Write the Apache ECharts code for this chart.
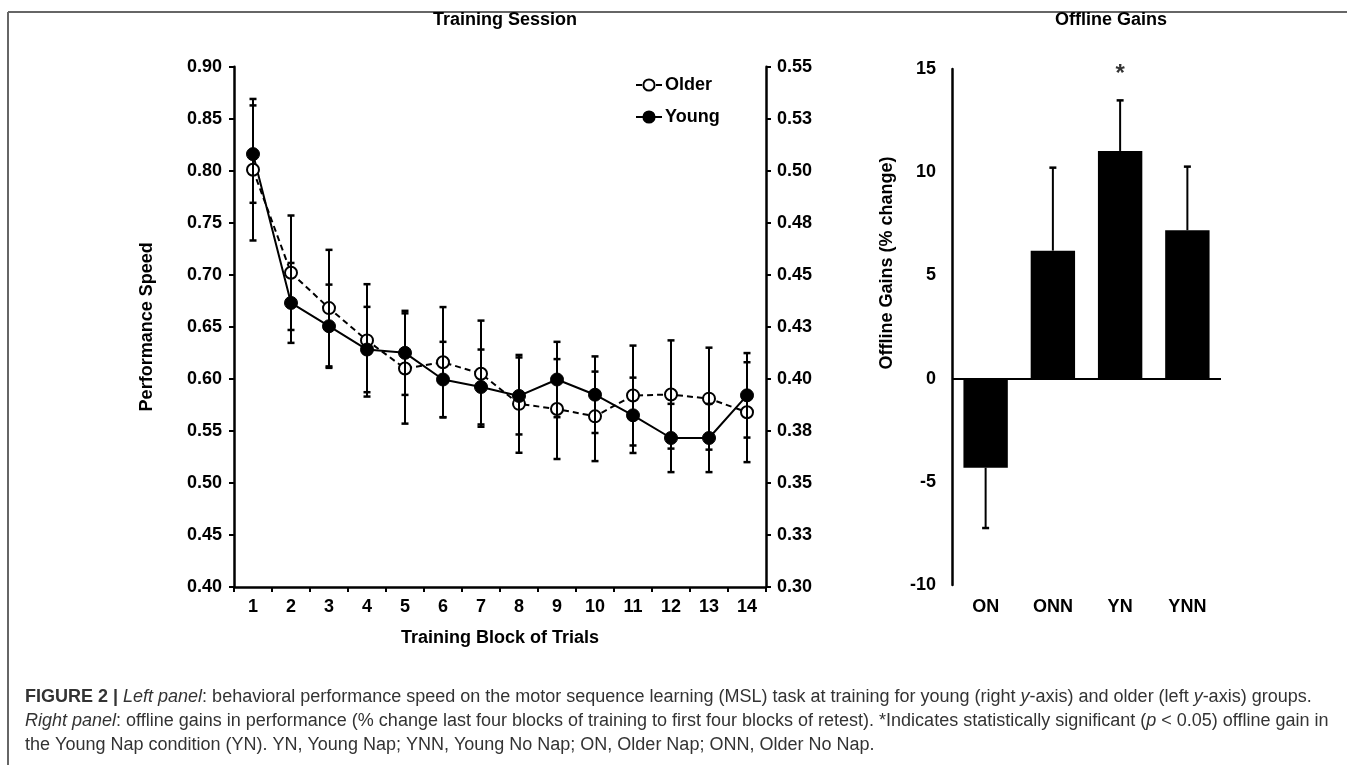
<!DOCTYPE html>
<html>
<head>
<meta charset="utf-8">
<script src="https://cdn.jsdelivr.net/npm/echarts@6/dist/echarts.min.js"></script>
<style>
html,body{margin:0;padding:0;background:#fff;}
#chart{width:1355px;height:765px;}
</style>
</head>
<body>
<div id="chart"></div>
<script>
// ---- data ----
const blocks = ['1','2','3','4','5','6','7','8','9','10','11','12','13','14'];
const olderSpeed = [0.801,0.702,0.668,0.637,0.610,0.616,0.605,0.576,0.571,0.564,0.584,0.585,0.581,0.568];
const olderErr   = [0.068,0.055,0.056,0.054,0.053,0.053,0.051,0.047,0.048,0.043,0.048,0.052,0.049,0.048];
const youngSpeed = [0.508,0.4365,0.4253,0.4141,0.4125,0.3997,0.3961,0.3918,0.3997,0.3924,0.3825,0.3716,0.3716,0.3921];
const youngErr   = [0.0234,0.0192,0.0200,0.0205,0.0202,0.0181,0.0180,0.0185,0.0181,0.0184,0.0181,0.0164,0.0164,0.0203];
const rightTickLabels = ['0.30','0.33','0.35','0.38','0.40','0.43','0.45','0.48','0.50','0.53','0.55'];
const groups   = ['ON','ONN','YN','YNN'];
const gains    = [-4.32, 6.20, 11.03, 7.19];
const gainErr  = [2.92, 4.02, 2.45, 3.08];
const sigMarks = [null, null, 14.75, null];

const FONT = 'Liberation Sans, Arial, sans-serif';
const boldTxt = {fontFamily: FONT, fontWeight: 'bold', fontSize: 18, color: '#000'};

function errBar(capHalf, oneSided) {
  return function (params, api) {
    const i = api.value(0), v = api.value(1), e = api.value(2);
    let lo, hi;
    if (oneSided) { lo = v; hi = v >= 0 ? v + e : v - e; }
    else { lo = v - e; hi = v + e; }
    const p1 = api.coord([i, lo]);
    const p2 = api.coord([i, hi]);
    const st = {stroke: '#000', lineWidth: 2};
    const kids = [{type: 'line', shape: {x1: p1[0], y1: p1[1], x2: p2[0], y2: p2[1]}, style: st}];
    if (!oneSided) kids.push({type: 'line', shape: {x1: p1[0]-capHalf, y1: p1[1], x2: p1[0]+capHalf, y2: p1[1]}, style: {stroke:'#000', lineWidth: 2.5}});
    kids.push({type: 'line', shape: {x1: p2[0]-capHalf, y1: p2[1], x2: p2[0]+capHalf, y2: p2[1]}, style: {stroke:'#000', lineWidth: 2.5}});
    return {type: 'group', children: kids};
  };
}

const chart = echarts.init(document.getElementById('chart'), null, {renderer: 'canvas'});

const option = {
  backgroundColor: '#fff',
  animation: false,
  title: [
    {text: 'Training Session', left: 500, top: 6, textAlign: 'center', textStyle: Object.assign({}, boldTxt)},
    {text: 'Offline Gains', left: 1106, top: 6, textAlign: 'center', textStyle: Object.assign({}, boldTxt)}
  ],
  legend: {
    left: 630, top: 71, orient: 'vertical', itemWidth: 26, itemHeight: 14, itemGap: 14,
    data: ['Older', 'Young'], textStyle: Object.assign({}, boldTxt, {padding: [0,0,0,-2]})
  },
  grid: [
    {left: 234, top: 66.7, width: 532, height: 520.3},
    {left: 952, top: 69, width: 269, height: 516}
  ],
  xAxis: [
    {
      type: 'category', gridIndex: 0, data: blocks, boundaryGap: true,
      name: 'Training Block of Trials', nameLocation: 'middle', nameGap: 42,
      nameTextStyle: Object.assign({}, boldTxt),
      axisLine: {lineStyle: {color: '#000', width: 2.5}},
      axisTick: {show: true, length: 5, lineStyle: {color: '#000', width: 2}, alignWithLabel: false},
      axisLabel: Object.assign({margin: 11}, boldTxt),
      splitLine: {show: false}
    },
    {
      type: 'category', gridIndex: 1, data: groups,
      axisLine: {show: false}, axisTick: {show: false},
      axisLabel: Object.assign({margin: 13}, boldTxt),
      splitLine: {show: false}
    }
  ],
  yAxis: [
    {
      type: 'value', gridIndex: 0, min: 0.40, max: 0.90, interval: 0.05, position: 'left',
      name: 'Performance Speed', nameLocation: 'middle', nameGap: 78,
      nameTextStyle: Object.assign({}, boldTxt),
      axisLine: {show: true, lineStyle: {color: '#000', width: 2.5}},
      axisTick: {show: true, length: 5, lineStyle: {color: '#000', width: 2}},
      axisLabel: Object.assign({margin: 12, formatter: v => v.toFixed(2)}, boldTxt),
      splitLine: {show: false}
    },
    {
      type: 'value', gridIndex: 0, min: 0.30, max: 0.55, interval: 0.025, position: 'right',
      axisLine: {show: true, lineStyle: {color: '#000', width: 2.5}},
      axisTick: {show: true, length: 5, lineStyle: {color: '#000', width: 2}},
      axisLabel: Object.assign({margin: 11, formatter: v => rightTickLabels[Math.round((v - 0.30) / 0.025)]}, boldTxt),
      splitLine: {show: false}
    },
    {
      type: 'value', gridIndex: 1, min: -10, max: 15, interval: 5,
      axisLine: {show: true, lineStyle: {color: '#000', width: 2.5}},
      axisTick: {show: false},
      axisLabel: Object.assign({margin: 16}, boldTxt),
      splitLine: {show: false}
    }
  ],
  series: [
    {
      name: 'Older', type: 'line', xAxisIndex: 0, yAxisIndex: 0, data: olderSpeed,
      symbol: 'circle', symbolSize: 12, z: 3,
      lineStyle: {color: '#000', width: 2, type: [6, 4]},
      itemStyle: {color: '#fff', borderColor: '#000', borderWidth: 2}
    },
    {
      name: 'Young', type: 'line', xAxisIndex: 0, yAxisIndex: 1, data: youngSpeed,
      symbol: 'circle', symbolSize: 13, z: 3,
      lineStyle: {color: '#000', width: 2},
      itemStyle: {color: '#000', borderColor: '#000', borderWidth: 1}
    },
    {
      type: 'custom', xAxisIndex: 0, yAxisIndex: 0, z: 4, silent: true,
      data: olderSpeed.map((v, i) => [i, v, olderErr[i]]),
      renderItem: errBar(3.5, false)
    },
    {
      type: 'custom', xAxisIndex: 0, yAxisIndex: 1, z: 4, silent: true,
      data: youngSpeed.map((v, i) => [i, v, youngErr[i]]),
      renderItem: errBar(3.5, false)
    },
    {
      type: 'bar', xAxisIndex: 1, yAxisIndex: 2, data: gains, barWidth: '66%',
      itemStyle: {color: '#000'}, z: 2,
      markLine: {
        silent: true, symbol: 'none', label: {show: false},
        lineStyle: {color: '#000', width: 2, type: 'solid'},
        data: [{yAxis: 0}]
      }
    },
    {
      type: 'custom', xAxisIndex: 1, yAxisIndex: 2, z: 3, silent: true,
      data: gains.map((v, i) => [i, v, gainErr[i]]),
      renderItem: errBar(3.5, true)
    },
    {
      type: 'scatter', xAxisIndex: 1, yAxisIndex: 2, symbolSize: 0, silent: true,
      data: sigMarks.map((v, i) => v === null ? null : [i, v]),
      label: {show: true, position: 'inside', formatter: '*', fontFamily: FONT, fontWeight: 'bold', fontSize: 24, color: '#000'}
    }
  ],
  graphic: [
    {type: 'line', shape: {x1: 8, y1: 12, x2: 1347, y2: 12}, style: {stroke: '#666', lineWidth: 2}},
    {type: 'line', shape: {x1: 8, y1: 12, x2: 8, y2: 765}, style: {stroke: '#666', lineWidth: 2}},
    {
      type: 'text', x: 887, y: 263, rotation: Math.PI / 2,
      style: {text: 'Offline Gains (% change)', font: 'bold 18px ' + FONT, fill: '#000', align: 'center', verticalAlign: 'middle'}
    },
    {
      type: 'text', x: 25, y: 697,
      style: {
        text: '{b|FIGURE 2 | }{i|Left panel}: behavioral performance speed on the motor sequence learning (MSL) task at training for young (right {i|y}-axis) and older (left {i|y}-axis) groups.',
        font: '18px ' + FONT, fill: '#333', verticalAlign: 'middle',
        rich: {b: {fontWeight: 'bold', fontSize: 18, fontFamily: FONT, fill: '#333'}, i: {fontStyle: 'italic', fontSize: 18, fontFamily: FONT, fill: '#333'}}
      }
    },
    {
      type: 'text', x: 25, y: 721,
      style: {
        text: '{i|Right panel}: offline gains in performance (% change last four blocks of training to first four blocks of retest). *Indicates statistically significant ({i|p} < 0.05) offline gain in',
        font: '18px ' + FONT, fill: '#333', verticalAlign: 'middle',
        rich: {i: {fontStyle: 'italic', fontSize: 18, fontFamily: FONT, fill: '#333'}}
      }
    },
    {
      type: 'text', x: 25, y: 745,
      style: {
        text: 'the Young Nap condition (YN). YN, Young Nap; YNN, Young No Nap; ON, Older Nap; ONN, Older No Nap.',
        font: '18px ' + FONT, fill: '#333', verticalAlign: 'middle'
      }
    }
  ]
};
chart.setOption(option);
</script>
</body>
</html>
